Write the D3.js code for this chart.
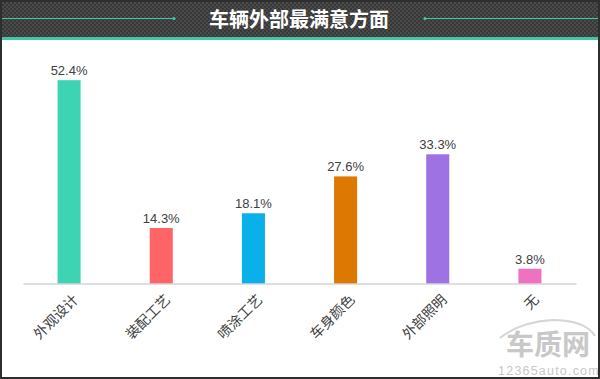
<!DOCTYPE html>
<html><head><meta charset="utf-8">
<script src="https://cdn.jsdelivr.net/npm/d3@7"></script>
<style>html,body{margin:0;padding:0;background:#fff;}svg{display:block;}</style>
</head><body>
<script>
const categories = ["外观设计","装配工艺","喷涂工艺","车身颜色","外部照明","无"];
const values = [52.4, 14.3, 18.1, 27.6, 33.3, 3.8];
const colors = ["#3dd4b4","#ff6467","#09b0e9","#dd7802","#9e72e3","#ef72c0"];
const title = "车辆外部最满意方面";

const W = 600, H = 379;
const svg = d3.select("body").append("svg").attr("width", W).attr("height", H);
const defs = svg.append("defs");
const pat = defs.append("pattern").attr("id","chk").attr("width",4).attr("height",4).attr("patternUnits","userSpaceOnUse");
pat.append("rect").attr("width",4).attr("height",4).attr("fill","#383838");
pat.append("rect").attr("width",2).attr("height",2).attr("fill","#4a4a4a");
pat.append("rect").attr("x",2).attr("y",2).attr("width",2).attr("height",2).attr("fill","#4a4a4a");

svg.append("rect").attr("width",W).attr("height",H).attr("fill","#fff");
// header
svg.append("rect").attr("x",0).attr("y",0).attr("width",W).attr("height",37).attr("fill","url(#chk)");
svg.append("rect").attr("x",0).attr("y",37).attr("width",W).attr("height",3).attr("fill","#3ec8a8");
svg.append("line").attr("x1",2).attr("x2",174).attr("y1",18.5).attr("y2",18.5).attr("stroke","#3ec8a8").attr("stroke-width",1.2);
svg.append("line").attr("x1",425).attr("x2",600).attr("y1",18.5).attr("y2",18.5).attr("stroke","#3ec8a8").attr("stroke-width",1.2);
svg.append("circle").attr("cx",174).attr("cy",18.5).attr("r",1.6).attr("fill","#3ec8a8");
svg.append("circle").attr("cx",425).attr("cy",18.5).attr("r",1.6).attr("fill","#3ec8a8");
svg.append("text").attr("x",299).attr("y",26.5).attr("text-anchor","middle")
  .attr("font-family","Noto Sans CJK SC").attr("font-weight","bold").attr("font-size",20)
  .attr("fill","#fff").text(title);

const x = d3.scaleBand().domain(categories).range([23, 576]).paddingInner(0.75).paddingOuter(0.375);
const y = d3.scaleLinear().domain([0, 60]).range([283.5, 283.5 - 60*3.88]);

// watermark
const wm = svg.append("g").attr("fill","#c8c8c8");
svg.append("path").attr("d","M500 338 Q520 322 552 320 Q585 320 595 336").attr("fill","none").attr("stroke","#d6d6d6").attr("stroke-width",2);
wm.append("text").attr("x",548).attr("y",355).attr("text-anchor","middle").attr("font-size",28).attr("font-weight","bold").attr("font-family","Noto Sans CJK SC").text("车质网");
wm.append("text").attr("x",549).attr("y",375).attr("text-anchor","middle").attr("font-size",12.5).attr("letter-spacing",1.2).attr("font-family","Liberation Sans").text("12365auto.com");

// frame
svg.append("rect").attr("x",1).attr("y",1).attr("width",W-2).attr("height",H-2).attr("fill","none").attr("stroke","#2e2e2e").attr("stroke-width",2);

// bars
svg.append("g").selectAll("rect").data(values).join("rect")
  .attr("x",(d,i)=>x(categories[i])).attr("width",x.bandwidth())
  .attr("y",d=>y(d)).attr("height",d=>y(0)-y(d)).attr("fill",(d,i)=>colors[i]);

svg.append("g").selectAll("text").data(values).join("text")
  .attr("x",(d,i)=>x(categories[i])+x.bandwidth()/2).attr("y",d=>y(d)-5)
  .attr("text-anchor","middle").attr("font-family","Liberation Sans, Arial").attr("font-size",13)
  .attr("fill","#404040").text(d=>d.toFixed(1)+"%");

// axis
const ax = svg.append("g").attr("transform",`translate(0,${y(0)})`).call(d3.axisBottom(x).tickSize(0).tickSizeOuter(0));
ax.select(".domain").attr("stroke","#bfbfbf").attr("stroke-width",1);
ax.selectAll("text").attr("font-family","Noto Sans CJK SC").attr("font-size",14).attr("fill","#404040")
  .attr("text-anchor","end").attr("dy",null).attr("y",0).attr("x",0)
  .attr("transform","translate(10,17) rotate(-45)");
</script>
</body></html>
